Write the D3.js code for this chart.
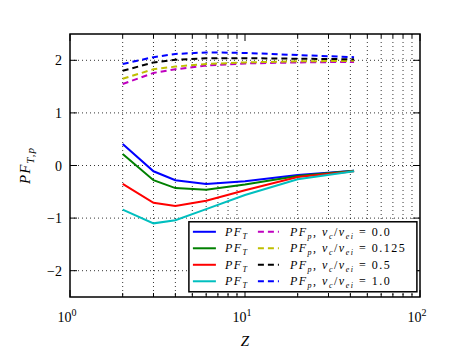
<!DOCTYPE html>
<html lang="en">
<head>
  <script src="https://d3js.org/d3.v7.min.js"></script>
  <style>
    body { margin: 0; background: white; }
    text { font-family: "Liberation Serif", "DejaVu Serif", serif; fill: #000; }
    .grid line { stroke: #000; stroke-width: 0.8; stroke-dasharray: 1,3; }
  </style>
</head>
<body>
<div id="chart"></div>
<script>
  // Z values (log axis)
  var zVals = [2, 3, 4, 6, 10, 20, 42];

  // PF_T curves (solid)
  var pfT_blue  = [0.41, -0.11, -0.28, -0.35, -0.30, -0.18, -0.10];
  var pfT_green = [0.22, -0.28, -0.43, -0.46, -0.36, -0.20, -0.10];
  var pfT_red   = [-0.35, -0.71, -0.77, -0.67, -0.47, -0.22, -0.11];
  var pfT_cyan  = [-0.84, -1.10, -1.04, -0.83, -0.56, -0.26, -0.11];

  // PF_p curves (dashed), nu_c/nu_ei = 0.0, 0.125, 0.5, 1.0
  var pfp_00   = [1.55, 1.76, 1.83, 1.90, 1.94, 1.96, 1.97];
  var pfp_0125 = [1.65, 1.83, 1.88, 1.93, 1.96, 1.98, 1.99];
  var pfp_05   = [1.80, 1.96, 2.01, 2.04, 2.04, 2.03, 2.02];
  var pfp_10   = [1.93, 2.06, 2.12, 2.15, 2.14, 2.10, 2.06];

  var nuLabels = ["0.0", "0.125", "0.5", "1.0"];
  var yTicks = [-2, -1, 0, 1, 2];
  var xMajor = [1, 10, 100];

  var solidSeries = [
    {vals: pfT_blue, color: "#0000ff"},
    {vals: pfT_green, color: "#008000"},
    {vals: pfT_red, color: "#ff0000"},
    {vals: pfT_cyan, color: "#00bfbf"}
  ];
  var dashSeries = [
    {vals: pfp_00, color: "#bf00bf", nu: nuLabels[0]},
    {vals: pfp_0125, color: "#bfbf00", nu: nuLabels[1]},
    {vals: pfp_05, color: "#000000", nu: nuLabels[2]},
    {vals: pfp_10, color: "#0000ff", nu: nuLabels[3]}
  ];

  var margin = {top: 34, right: 46, bottom: 54, left: 70},
      width = 466 - margin.left - margin.right,
      height = 351 - margin.top - margin.bottom;

  var svg = d3.select("#chart").append("svg")
      .attr("width", 466)
      .attr("height", 351)
      .append("g")
      .attr("transform", "translate(" + margin.left + "," + margin.top + ")");

  var x = d3.scaleLog().domain([1, 100]).range([0, width]);
  var y = d3.scaleLinear().domain([-2.5, 2.5]).range([height, 0]);

  var xMinor = [];
  [1, 10].forEach(function (d) {
    for (var k = 2; k <= 9; k++) xMinor.push(d * k);
  });

  // grid
  var grid = svg.append("g").attr("class", "grid");
  grid.selectAll(".vg").data(xMinor).enter().append("line")
      .attr("x1", function (d) { return x(d); })
      .attr("x2", function (d) { return x(d); })
      .attr("y1", 0).attr("y2", height);
  grid.selectAll(".hg").data(yTicks).enter().append("line")
      .attr("x1", 0).attr("x2", width)
      .attr("y1", function (d) { return y(d); })
      .attr("y2", function (d) { return y(d); });

  var line = d3.line()
      .x(function (d, i) { return x(zVals[i]); })
      .y(function (d) { return y(d); });

  solidSeries.forEach(function (s) {
    svg.append("path").datum(s.vals)
        .attr("d", line)
        .attr("fill", "none")
        .attr("stroke", s.color)
        .attr("stroke-width", 2);
  });
  dashSeries.forEach(function (s) {
    svg.append("path").datum(s.vals)
        .attr("d", line)
        .attr("fill", "none")
        .attr("stroke", s.color)
        .attr("stroke-width", 2)
        .attr("stroke-dasharray", "6,4");
  });

  // ticks (inside, on all sides)
  var ticks = svg.append("g").attr("stroke", "#000").attr("stroke-width", 1);
  xMajor.forEach(function (d) {
    ticks.append("line").attr("x1", x(d)).attr("x2", x(d)).attr("y1", height).attr("y2", height - 7);
    ticks.append("line").attr("x1", x(d)).attr("x2", x(d)).attr("y1", 0).attr("y2", 7);
  });
  xMinor.forEach(function (d) {
    ticks.append("line").attr("x1", x(d)).attr("x2", x(d)).attr("y1", height).attr("y2", height - 4);
    ticks.append("line").attr("x1", x(d)).attr("x2", x(d)).attr("y1", 0).attr("y2", 4);
  });
  yTicks.forEach(function (d) {
    ticks.append("line").attr("x1", 0).attr("x2", 7).attr("y1", y(d)).attr("y2", y(d));
    ticks.append("line").attr("x1", width).attr("x2", width - 7).attr("y1", y(d)).attr("y2", y(d));
  });

  // frame
  svg.append("rect")
      .attr("width", width).attr("height", height)
      .attr("fill", "none").attr("stroke", "#000").attr("stroke-width", 1.5);

  // tick labels
  svg.selectAll(".ylab").data(yTicks).enter().append("text")
      .attr("x", -8)
      .attr("y", function (d) { return y(d) + 5; })
      .attr("text-anchor", "end")
      .style("font-size", "14px")
      .text(function (d) { return d < 0 ? "\u2212" + Math.abs(d) : d; });

  xMajor.forEach(function (d, i) {
    var t = svg.append("text")
        .attr("x", x(d) - 3)
        .attr("y", height + 25)
        .attr("text-anchor", "middle")
        .style("font-size", "14px");
    t.append("tspan").text("10");
    t.append("tspan").attr("dy", -6).style("font-size", "10px").text(i);
  });

  // axis labels
  svg.append("text")
      .attr("x", width / 2)
      .attr("y", height + 49)
      .attr("text-anchor", "middle")
      .style("font-size", "15px")
      .style("font-style", "italic")
      .text("Z");

  var yl = svg.append("text")
      .attr("transform", "translate(-40," + (height / 2) + ") rotate(-90)")
      .attr("text-anchor", "middle")
      .style("font-size", "15px")
      .style("font-style", "italic")
      .style("letter-spacing", "1px");
  yl.append("tspan").text("PF");
  yl.append("tspan").attr("dy", 4).style("font-size", "11px").text("T,p");

  // legend
  var lg = svg.append("g").attr("transform", "translate(" + x(4.78) + "," + y(-1.07) + ")");
  lg.append("rect")
      .attr("width", 228).attr("height", 70)
      .attr("fill", "white").attr("stroke", "#000").attr("stroke-width", 1.5);

  solidSeries.forEach(function (s, i) {
    var yy = 10 + i * 16.5;
    lg.append("line").attr("x1", 4).attr("x2", 27).attr("y1", yy).attr("y2", yy)
        .attr("stroke", s.color).attr("stroke-width", 2);
    var t = lg.append("text").attr("x", 36).attr("y", yy + 4)
        .style("font-size", "12px").style("font-style", "italic")
        .style("letter-spacing", "1.5px");
    t.append("tspan").text("PF");
    t.append("tspan").attr("dy", 3).style("font-size", "8px").text("T");
  });
  dashSeries.forEach(function (s, i) {
    var yy = 10 + i * 16.5;
    lg.append("line").attr("x1", 69).attr("x2", 90).attr("y1", yy).attr("y2", yy)
        .attr("stroke", s.color).attr("stroke-width", 2).attr("stroke-dasharray", "6,4");
    var t = lg.append("text").attr("x", 101).attr("y", yy + 4)
        .style("font-size", "12px")
        .style("letter-spacing", "1.5px");
    t.append("tspan").style("font-style", "italic").text("PF");
    t.append("tspan").attr("dy", 3).style("font-size", "8px").style("font-style", "italic").text("p");
    t.append("tspan").attr("dy", -3).text(", ");
    t.append("tspan").style("font-style", "italic").text("\u03bd");
    t.append("tspan").attr("dy", 3).style("font-size", "8px").style("font-style", "italic").text("c");
    t.append("tspan").attr("dy", -3).text("/");
    t.append("tspan").style("font-style", "italic").text("\u03bd");
    t.append("tspan").attr("dy", 3).style("font-size", "8px").style("font-style", "italic").text("ei");
    t.append("tspan").attr("dy", -3).text(" = " + s.nu);
  });
</script>
</body>
</html>
